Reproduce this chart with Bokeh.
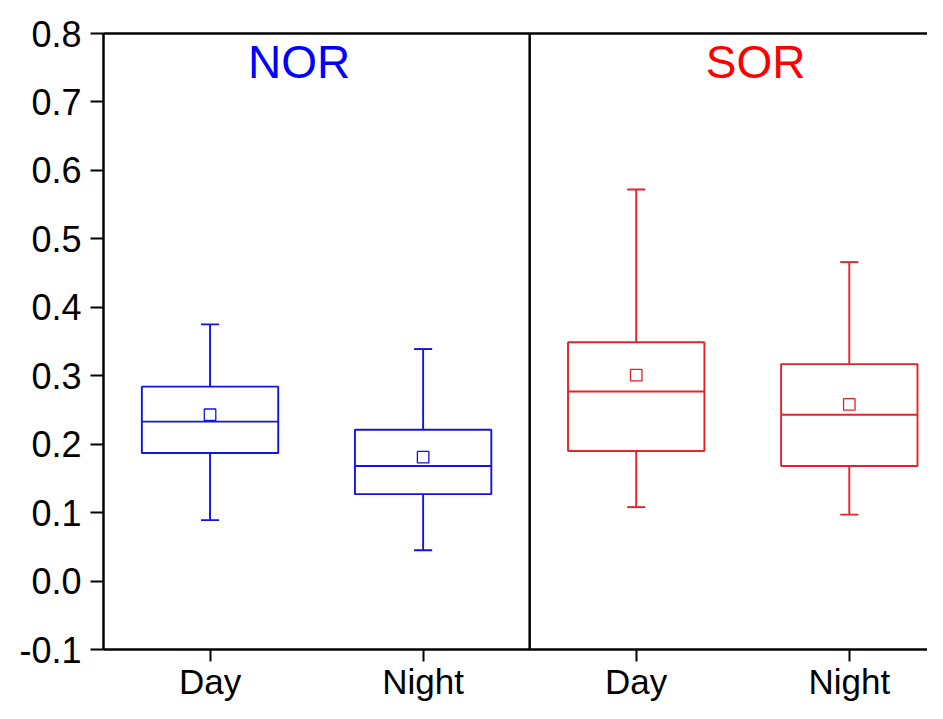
from bokeh.plotting import figure
from bokeh.models import (Range1d, FixedTicker, LinearAxis, Span, Label,
                          NumeralTickFormatter, ColumnDataSource)
from bokeh.embed import file_html
from bokeh.resources import INLINE

# ---- data ----
groups = ["NOR", "NOR", "SOR", "SOR"]
categories = ["Day", "Night", "Day", "Night"]
whisker_low = [0.089, 0.045, 0.108, 0.097]
q1 = [0.187, 0.127, 0.190, 0.168]
median = [0.233, 0.168, 0.277, 0.243]
q3 = [0.284, 0.221, 0.349, 0.317]
whisker_high = [0.375, 0.339, 0.572, 0.466]
means = [0.243, 0.181, 0.301, 0.258]
y_ticks = [-0.1, 0.0, 0.1, 0.2, 0.3, 0.4, 0.5, 0.6, 0.7, 0.8]
group_names = ["NOR", "SOR"]

# ---- style ----
FONT = "Liberation Sans"
BLUE_LINE = "#1414E0"
RED_LINE = "#E4232A"
group_line_color = {"NOR": BLUE_LINE, "SOR": RED_LINE}
group_text_color = {"NOR": "#0000FF", "SOR": "#FF0000"}
BOX_W = 0.64
CAP_W = 0.085
LW = 1.9

xs = [i + 1 for i in range(len(categories))]
colors = [group_line_color[g] for g in groups]

src = ColumnDataSource(dict(
    x=xs, left=[x - BOX_W / 2 for x in xs], right=[x + BOX_W / 2 for x in xs],
    cl=[x - CAP_W / 2 for x in xs], cr=[x + CAP_W / 2 for x in xs],
    lo=whisker_low, q1=q1, med=median, q3=q3, hi=whisker_high, mean=means,
    color=colors,
))

p = figure(width=927, height=703, output_backend="svg", toolbar_location=None,
           x_range=Range1d(0.5, 4.367), y_range=Range1d(-0.1, 0.8),
           min_border_left=103, min_border_top=33, min_border_bottom=40,
           min_border_right=0, outline_line_color=None)
p.grid.visible = False

# boxes
p.quad(left="left", right="right", bottom="q1", top="q3", source=src,
       fill_color=None, line_color="color", line_width=LW)
# medians
p.segment(x0="left", x1="right", y0="med", y1="med", source=src,
          line_color="color", line_width=LW)
# whiskers
p.segment(x0="x", x1="x", y0="q3", y1="hi", source=src, line_color="color", line_width=LW)
p.segment(x0="x", x1="x", y0="lo", y1="q1", source=src, line_color="color", line_width=LW)
# caps
p.segment(x0="cl", x1="cr", y0="hi", y1="hi", source=src, line_color="color", line_width=LW)
p.segment(x0="cl", x1="cr", y0="lo", y1="lo", source=src, line_color="color", line_width=LW)
# means
p.scatter(x="x", y="mean", source=src, marker="square", size=11.5,
          fill_color=None, line_color="color", line_width=1.3)

# divider between groups
p.add_layout(Span(location=2.5, dimension="height", line_color="black", line_width=2.5))

# group labels
for g, gx in zip(group_names, [1.418, 3.560]):
    p.add_layout(Label(x=gx, y=0.758, text=g, text_color=group_text_color[g],
                       text_font=FONT, text_font_size="46px",
                       text_align="center", text_baseline="middle"))

# axes
xa = p.xaxis[0]
xa.ticker = FixedTicker(ticks=xs)
xa.major_label_overrides = {x: c for x, c in zip(xs, categories)}
xa.minor_tick_line_color = None
xa.major_tick_in = 0
xa.major_tick_out = 12
xa.major_tick_line_width = 2
xa.axis_line_width = 2.5
xa.major_label_standoff = 0
xa.major_label_text_font = FONT
xa.major_label_text_font_size = "35px"
xa.major_label_text_color = "black"

ya = p.yaxis[0]
ya.ticker = FixedTicker(ticks=y_ticks)
ya.formatter = NumeralTickFormatter(format="0.0")
ya.minor_tick_line_color = None
ya.major_tick_in = 0
ya.major_tick_out = 13
ya.major_tick_line_width = 2
ya.axis_line_width = 2.5
ya.major_label_standoff = 9
ya.major_label_text_font = FONT
ya.major_label_text_font_size = "36px"
ya.major_label_text_color = "black"

top = LinearAxis(ticker=FixedTicker(ticks=[]), axis_line_width=2.5,
                 major_tick_out=0, major_tick_in=0, minor_tick_line_color=None,
                 major_label_standoff=0, major_label_text_font_size="0px")
p.add_layout(top, "above")

open("out.html", "w").write(file_html(p, INLINE))
